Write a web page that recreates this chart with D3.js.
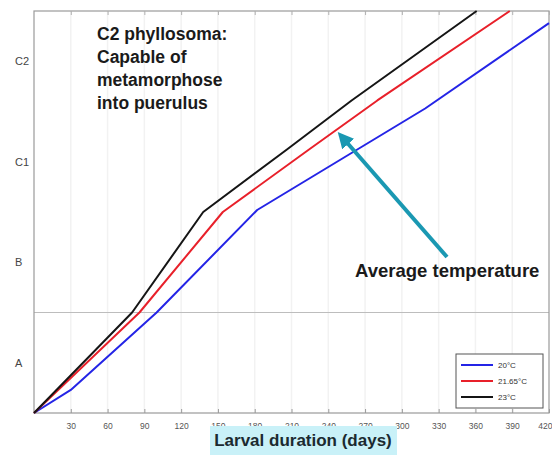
<!DOCTYPE html>
<html>
<head>
<meta charset="utf-8">
<script src="https://cdn.jsdelivr.net/npm/d3@7"></script>
<style>
  html, body { margin: 0; padding: 0; background: #fff; }
  svg { display: block; }
</style>
</head>
<body>
<svg id="chart" width="552" height="455"></svg>
<script>
// Larval development stage versus days, per rearing temperature
const stageLabels = ["A", "B", "C1", "C2"];
const stagePositions = [0.5, 1.5, 2.5, 3.5];
const dayTicks = [30, 60, 90, 120, 150, 180, 210, 240, 270, 300, 330, 360, 390, 420];

const seriesNames = ["20°C", "21.65°C", "23°C"];
const seriesColors = ["#2424e6", "#e8202a", "#151515"];

// [day, stage progress]
const temp20 = [[0, 0], [30, 0.23], [100, 1.0], [182, 2.02], [319, 3.03], [420, 3.88]];
const temp2165 = [[0, 0], [86, 1.0], [154, 2.0], [224, 2.62], [280, 3.11], [388, 4.0]];
const temp23 = [[0, 0], [80, 1.0], [138, 2.0], [206, 2.62], [259, 3.11], [361, 4.0]];
const seriesData = [temp20, temp2165, temp23];

const svg = d3.select("#chart");
const plotLeft = 34, plotRight = 549, plotTop = 11, plotBottom = 413;

const x = d3.scaleLinear().domain([0, 420]).range([plotLeft, plotRight]);
const y = d3.scaleLinear().domain([0, 4]).range([plotBottom, plotTop]);

// faint vertical grid
svg.append("g").selectAll("line").data(dayTicks.slice(0, -1)).join("line")
  .attr("x1", d => x(d)).attr("x2", d => x(d))
  .attr("y1", plotTop).attr("y2", plotBottom)
  .attr("stroke", "#f2f2f2").attr("stroke-width", 1.5);

// stage A / B boundary
svg.append("line")
  .attr("x1", plotLeft).attr("x2", plotRight)
  .attr("y1", y(1)).attr("y2", y(1))
  .attr("stroke", "#bdbdbd").attr("stroke-width", 1.2);

// frame
svg.append("rect")
  .attr("x", plotLeft).attr("y", plotTop)
  .attr("width", plotRight - plotLeft).attr("height", plotBottom - plotTop)
  .attr("fill", "none").attr("stroke", "#9a9a9a").attr("stroke-width", 1.2);

// inward ticks, bottom and top
const xAxisB = d3.axisBottom(x).tickValues(dayTicks).tickSize(-4).tickPadding(10).tickFormat(d3.format("d"));
const gB = svg.append("g").attr("transform", `translate(0,${plotBottom})`).call(xAxisB);
gB.select(".domain").remove();
gB.selectAll(".tick line").attr("stroke", "#9a9a9a");
gB.selectAll(".tick text")
  .attr("fill", "#555").style("font-family", "Liberation Sans, Arial, sans-serif").style("font-size", "8.5px");
// last label sits against the right edge of the page
gB.selectAll(".tick text").filter(d => d === 420)
  .attr("text-anchor", "end").attr("x", 552 - x(420));

const xAxisT = d3.axisTop(x).tickValues(dayTicks).tickSize(-4).tickFormat("");
const gT = svg.append("g").attr("transform", `translate(0,${plotTop})`).call(xAxisT);
gT.select(".domain").remove();
gT.selectAll(".tick line").attr("stroke", "#b0b0b0");

// stage labels
svg.append("g").selectAll("text").data(stagePositions).join("text")
  .attr("x", 15).attr("y", d => y(d) + 4)
  .attr("fill", "#444")
  .style("font-family", "Liberation Sans, Arial, sans-serif").style("font-size", "11px")
  .text((d, i) => stageLabels[i]);

// growth curves
const line = d3.line().x(d => x(d[0])).y(d => y(d[1]));
svg.append("g").selectAll("path").data(seriesData).join("path")
  .attr("d", line)
  .attr("fill", "none")
  .attr("stroke", (d, i) => seriesColors[i])
  .attr("stroke-width", 2)
  .attr("stroke-linejoin", "round");

// annotation
const note = ["C2 phyllosoma:", "Capable of", "metamorphose", "into puerulus"];
svg.append("g").selectAll("text").data(note).join("text")
  .attr("x", 97).attr("y", (d, i) => 40 + i * 23)
  .attr("fill", "#1a1a1a")
  .style("font-family", "Liberation Sans, Arial, sans-serif")
  .style("font-size", "17.5px").style("font-weight", "bold")
  .text(d => d);

// arrow to the average-temperature curve
svg.append("defs").append("marker")
  .attr("id", "head").attr("viewBox", "0 0 10 10")
  .attr("refX", 5).attr("refY", 5)
  .attr("markerWidth", 4).attr("markerHeight", 4)
  .attr("orient", "auto")
  .append("path").attr("d", "M0,0 L10,5 L0,10 z").attr("fill", "#1a98b2");
svg.append("line")
  .attr("x1", 447).attr("y1", 257).attr("x2", 343).attr("y2", 138)
  .attr("stroke", "#1a98b2").attr("stroke-width", 4)
  .attr("marker-end", "url(#head)");

svg.append("text")
  .attr("x", 355).attr("y", 277)
  .attr("fill", "#1a1a1a")
  .style("font-family", "Liberation Sans, Arial, sans-serif")
  .style("font-size", "18.5px").style("font-weight", "bold")
  .text("Average temperature");

// legend
const lg = svg.append("g");
lg.append("rect").attr("x", 456).attr("y", 354).attr("width", 87).attr("height", 54)
  .attr("fill", "#fff").attr("stroke", "#555").attr("stroke-width", 1);
seriesNames.forEach((name, i) => {
  const yy = 365 + i * 16;
  lg.append("line").attr("x1", 461).attr("x2", 493).attr("y1", yy).attr("y2", yy)
    .attr("stroke", seriesColors[i]).attr("stroke-width", 2);
  lg.append("text").attr("x", 498).attr("y", yy + 3)
    .attr("fill", "#333")
    .style("font-family", "Liberation Sans, Arial, sans-serif").style("font-size", "8px")
    .text(name);
});

// x axis title with highlight
const title = svg.append("g");
title.append("rect").attr("x", 210).attr("y", 426).attr("width", 187).attr("height", 29)
  .attr("fill", "#c9f1f8");
title.append("text")
  .attr("x", 303).attr("y", 446).attr("text-anchor", "middle")
  .attr("fill", "#1b2a30")
  .style("font-family", "Liberation Sans, Arial, sans-serif")
  .style("font-size", "17px").style("font-weight", "bold")
  .text("Larval duration (days)");
</script>
</body>
</html>
